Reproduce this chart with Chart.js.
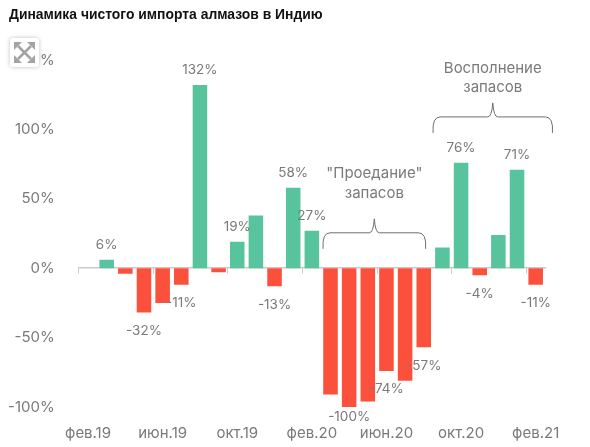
<!DOCTYPE html>
<html lang="ru">
<head>
<meta charset="utf-8">
<title>Динамика чистого импорта алмазов в Индию</title>
<script src="https://cdn.jsdelivr.net/npm/chart.js@4"></script>
<style>
  html, body { margin: 0; background: #fff; }
  #wrap { position: relative; width: 590px; height: 447px; overflow: hidden; }
  #title { position: absolute; left: 9px; top: 6px; font: bold 13.9px "Liberation Sans", Arial, sans-serif; color: #111; white-space: nowrap; }
  #expand { position: absolute; left: 10px; top: 38px; width: 29px; height: 29px; background: #fff; border-radius: 3px; box-shadow: 0 0 4px rgba(0,0,0,.25); }
  canvas { position: absolute; left: 0; top: 0; }
</style>
</head>
<body>
<div id="wrap">
  <canvas id="chart" width="590" height="447"></canvas>
  <div id="title">Динамика чистого импорта алмазов в Индию</div>
  <div id="expand">
    <svg width="29" height="29" viewBox="0 0 29 29">
      <path d="M8 8 L21 21 M21 8 L8 21" stroke="#a3a3a3" stroke-width="2.6" fill="none"/>
      <path d="M4 4 H12 L4 12 Z M25 4 V12 L17 4 Z M25 25 H17 L25 17 Z M4 25 V17 L12 25 Z" fill="#a3a3a3"/>
    </svg>
  </div>
</div>
<script>
const months = ['фев.19','мар.19','апр.19','май.19','июн.19','июл.19','авг.19','сен.19','окт.19','ноя.19','дек.19','янв.20',
  'фев.20','мар.20','апр.20','май.20','июн.20','июл.20','авг.20','сен.20','окт.20','ноя.20','дек.20','янв.21','фев.21'];
const values = [null, 6, -4, -32, -25, -12, 132, -3, 19, 38, -13, 58, 27, -91, -100, -96, -74, -81, -57, 15, 76, -5, 24, 71, -12];
const barLabels = ['', '6%', '', '-32%', '', '-11%', '132%', '', '19%', '', '-13%', '58%', '27%', '', '-100%', '', '-74%', '', '-57%', '', '76%', '-4%', '', '71%', '-11%'];
const yTicks = [-100, -50, 0, 50, 100, 150];
const proedanie = ['"Проедание"', 'запасов'];
const vospolnenie = ['Восполнение', 'запасов'];

const GREEN = '#58c49d';
const RED = '#fb503c';
const GREY = '#7a7a7a';
const FONT = 'Inter, "Open Sans", sans-serif';

// curly bracket, tips point down and the peak points up
function brace(ctx, x1, x2, y) {
  const mid = (x1 + x2) / 2, r = 5;
  ctx.beginPath();
  ctx.moveTo(x1, y + 16);
  ctx.quadraticCurveTo(x1 - 1, y, x1 + r + 2, y);
  ctx.lineTo(mid - 5, y);
  ctx.quadraticCurveTo(mid - 1, y, mid, y - 14);
  ctx.quadraticCurveTo(mid + 1, y, mid + 5, y);
  ctx.lineTo(x2 - r - 2, y);
  ctx.quadraticCurveTo(x2 + 1, y, x2, y + 16);
  ctx.stroke();
}

const annotations = {
  id: 'annotations',
  afterDatasetsDraw(chart) {
    const { ctx, scales: { x, y } } = chart;
    const bars = chart.getDatasetMeta(0).data;
    ctx.save();
    ctx.textAlign = 'center';
    ctx.textBaseline = 'middle';
    ctx.fillStyle = GREY;
    ctx.font = '400 13.5px ' + FONT;

    // value labels, -100% sits closer to its bar than the others
    barLabels.forEach((t, i) => {
      if (!t) return;
      const below = i === 14 ? 9.5 : 18.5;
      const offset = values[i] < 0 ? below : -15;
      ctx.fillText(t, bars[i].x, y.getPixelForValue(values[i]) + offset);
    });

    // brackets with captions
    ctx.strokeStyle = '#6b6f73';
    ctx.lineWidth = 1;
    brace(ctx, x.getPixelForValue(12.6), x.getPixelForValue(18.1), y.getPixelForValue(25.5));
    brace(ctx, x.getPixelForValue(18.5), x.getPixelForValue(24.9), y.getPixelForValue(109));
    const mid1 = x.getPixelForValue(15.35), mid2 = x.getPixelForValue(21.7);
    ctx.font = '400 15px ' + FONT;
    ctx.fillText(proedanie[0], mid1, y.getPixelForValue(68));
    ctx.fillText(proedanie[1], mid1, y.getPixelForValue(54));
    ctx.fillText(vospolnenie[0], mid2, y.getPixelForValue(144));
    ctx.fillText(vospolnenie[1], mid2, y.getPixelForValue(130));
    ctx.restore();
  }
};

new Chart(document.getElementById('chart'), {
  type: 'bar',
  data: {
    labels: months,
    datasets: [{
      data: values,
      backgroundColor: c => c.raw < 0 ? RED : GREEN,
      categoryPercentage: 1,
      barPercentage: 0.78
    }]
  },
  plugins: [annotations],
  options: {
    responsive: false,
    animation: false,
    layout: { padding: { top: 60, right: 45, left: 0, bottom: 0 } },
    plugins: { legend: { display: false }, tooltip: { enabled: false }, title: { display: false } },
    scales: {
      x: {
        offset: true,
        border: { display: false },
        grid: { display: false },
        afterFit: s => { s.height = 40; },
        ticks: {
          autoSkip: false,
          maxRotation: 0,
          padding: 9,
          color: GREY,
          font: { family: FONT, size: 15, weight: '400' },
          callback: (v, i) => i % 4 === 0 ? months[i] : ''
        }
      },
      // second axis only for the baseline at zero and its tick marks
      xZero: {
        type: 'category',
        position: { y: 0 },
        offset: true,
        border: { color: '#c9c9c9', width: 1.5 },
        grid: {
          offset: true,
          drawOnChartArea: false,
          tickLength: 5,
          tickColor: c => (c.index % 4 === 0 ? '#c9c9c9' : 'transparent')
        },
        ticks: { display: false, autoSkip: false }
      },
      y: {
        min: -100,
        max: 150,
        border: { display: false },
        grid: { display: false },
        afterFit: s => { s.width = 78.7; },
        afterBuildTicks: s => { s.ticks = yTicks.map(v => ({ value: v })); },
        ticks: {
          padding: 16,
          color: GREY,
          font: { family: FONT, size: 15, weight: '400' },
          callback: v => v + '%'
        }
      }
    }
  }
});
</script>
</body>
</html>
